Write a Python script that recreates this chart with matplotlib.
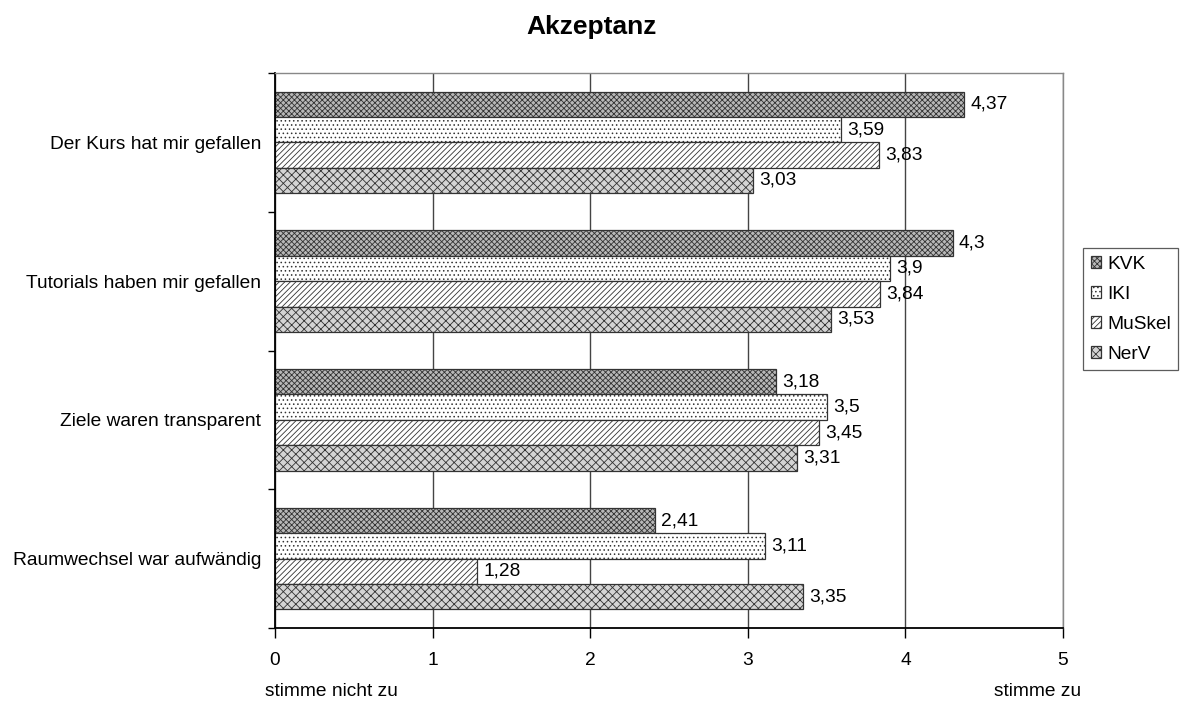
import numpy as np
import matplotlib.pyplot as plt

plt.rcParams['font.family'] = ['Liberation Sans', 'DejaVu Sans']
plt.rcParams['hatch.linewidth'] = 0.6

# Mean ratings per statement (top to bottom) and course
statements = ['Der Kurs hat mir gefallen', 'Tutorials haben mir gefallen',
              'Ziele waren transparent', 'Raumwechsel war aufwändig']
courses = ['KVK', 'IKI', 'MuSkel', 'NerV']
kvk = [4.37, 4.3, 3.18, 2.41]
iki = [3.59, 3.9, 3.5, 3.11]
muskel = [3.83, 3.84, 3.45, 1.28]
nerv = [3.03, 3.53, 3.31, 3.35]
series = [kvk, iki, muskel, nerv]

styles = [
    dict(facecolor='#b8b8b8', hatch='xxxxxx'),
    dict(facecolor='white', hatch='....'),
    dict(facecolor='white', hatch='//////'),
    dict(facecolor='#d4d4d4', hatch='xxxx'),
]

fs = 13.8

fig = plt.figure(figsize=(11.83, 7.02), dpi=100)
ax = fig.add_axes([275 / 1183, 74 / 702, 788 / 1183, 555 / 702])

bar_h = 0.183
n = len(statements)
centers = np.arange(n)[::-1] + 0.5  # first statement at top

for i, (name, vals, st) in enumerate(zip(courses, series, styles)):
    y = centers + (1.5 - i) * bar_h
    bars = ax.barh(y, vals, height=bar_h, edgecolor='#333333', linewidth=0.9,
                   label=name, **st)
    for b, v in zip(bars, vals):
        txt = f'{v:g}'.replace('.', ',')
        ax.text(v + 0.04, b.get_y() + b.get_height() / 2, txt,
                va='center', ha='left', fontsize=fs)

ax.set_xlim(0, 5)
ax.set_ylim(0, n)
ax.set_xticks(range(6))
ax.set_xticklabels([str(t) for t in range(6)], fontsize=fs)
ax.set_yticks(range(n + 1))
ax.set_yticklabels([])
ax.set_yticks(centers, minor=True)
ax.set_yticklabels(statements, minor=True, fontsize=fs)
ax.tick_params(axis='y', which='minor', length=0, pad=10)
ax.tick_params(axis='y', which='major', direction='out', length=5, width=1)
ax.tick_params(axis='x', direction='out', length=7, width=1, pad=10)

ax.grid(axis='x', color='#444444', linewidth=1.0)
ax.set_axisbelow(True)
for side in ['top', 'right']:
    ax.spines[side].set_color('#888888')
    ax.spines[side].set_linewidth(1.0)
ax.spines['left'].set_linewidth(1.3)
ax.spines['bottom'].set_linewidth(1.3)

fig.text(265 / 1183, 1 - 692 / 702, 'stimme nicht zu', fontsize=fs, ha='left', va='center')
fig.text(1038 / 1183, 1 - 692 / 702, 'stimme zu', fontsize=fs, ha='center', va='center')

fig.text(0.5, 1 - 27 / 702, 'Akzeptanz', fontsize=19, fontweight='bold',
         ha='center', va='center')

leg = ax.legend(loc='upper left', bbox_to_anchor=(1083 / 1183, 1 - 248 / 702),
                bbox_transform=fig.transFigure, fontsize=fs, frameon=True,
                fancybox=False, edgecolor='#333333', handlelength=0.55,
                handleheight=0.55, handletextpad=0.3, labelspacing=0.68,
                borderpad=0.4, borderaxespad=0)
leg.get_frame().set_linewidth(0.9)

fig.savefig('out.png', dpi=100)
